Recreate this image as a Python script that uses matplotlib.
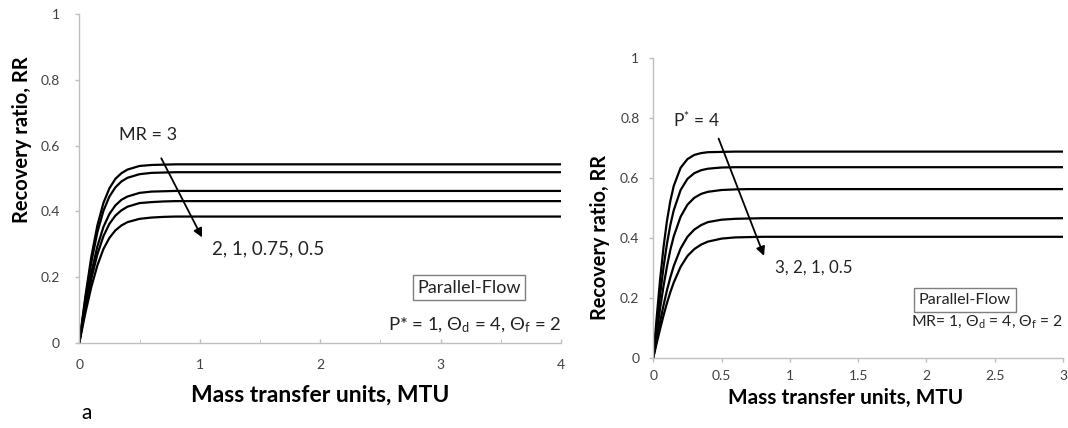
import numpy as np
import matplotlib
matplotlib.use('Agg')
import matplotlib.pyplot as plt

plt.rcParams['font.family'] = ['Lato', 'DejaVu Sans']
plt.rcParams['mathtext.default'] = 'regular'

# ---- panel (a): RR vs MTU for several MR values (P* = 1) ----
mtu_a = [0, 0.05, 0.1, 0.15, 0.2, 0.25, 0.3, 0.35, 0.4, 0.5, 0.6, 0.7, 0.8, 1.0, 4.0]
rr_mr3 = [0, 0.140, 0.262, 0.357, 0.425, 0.470, 0.499, 0.516, 0.527, 0.538, 0.541, 0.542, 0.543, 0.543, 0.543]
rr_mr2 = [0, 0.130, 0.245, 0.336, 0.401, 0.445, 0.473, 0.491, 0.502, 0.513, 0.517, 0.518, 0.519, 0.519, 0.519]
rr_mr1 = [0, 0.113, 0.213, 0.293, 0.352, 0.392, 0.418, 0.435, 0.445, 0.456, 0.460, 0.461, 0.462, 0.462, 0.462]
rr_mr075 = [0, 0.103, 0.195, 0.269, 0.324, 0.362, 0.387, 0.403, 0.414, 0.425, 0.428, 0.430, 0.431, 0.431, 0.431]
rr_mr05 = [0, 0.090, 0.170, 0.235, 0.285, 0.319, 0.342, 0.357, 0.367, 0.377, 0.381, 0.383, 0.384, 0.384, 0.384]
curves_a = [rr_mr3, rr_mr2, rr_mr1, rr_mr075, rr_mr05]

# ---- panel (b): RR vs MTU for several P* values (MR = 1) ----
mtu_b = [0, 0.025, 0.05, 0.075, 0.1, 0.125, 0.15, 0.2, 0.25, 0.3, 0.35, 0.4, 0.5, 0.6, 0.7, 0.8, 1.0, 3.0]
rr_p4 = [0, 0.135, 0.261, 0.369, 0.456, 0.523, 0.573, 0.633, 0.662, 0.676, 0.682, 0.685, 0.686, 0.687, 0.687, 0.687, 0.687, 0.687]
rr_p3 = [0, 0.108, 0.211, 0.302, 0.380, 0.443, 0.492, 0.559, 0.596, 0.615, 0.625, 0.630, 0.634, 0.635, 0.635, 0.635, 0.635, 0.635]
rr_p2 = [0, 0.085, 0.165, 0.239, 0.304, 0.360, 0.405, 0.470, 0.510, 0.533, 0.546, 0.553, 0.559, 0.561, 0.562, 0.562, 0.562, 0.562]
rr_p1 = [0, 0.061, 0.120, 0.175, 0.225, 0.268, 0.306, 0.364, 0.403, 0.427, 0.442, 0.452, 0.460, 0.463, 0.464, 0.465, 0.465, 0.465]
rr_p05 = [0, 0.049, 0.096, 0.141, 0.182, 0.219, 0.251, 0.303, 0.339, 0.362, 0.377, 0.387, 0.397, 0.401, 0.402, 0.403, 0.403, 0.403]
curves_b = [rr_p4, rr_p3, rr_p2, rr_p1, rr_p05]

y_ticks = [0, 0.2, 0.4, 0.6, 0.8, 1]
y_ticklabels = ['0', '0.2', '0.4', '0.6', '0.8', '1']
xa_ticks = [0, 1, 2, 3, 4]
xb_ticks = [0, 0.5, 1, 1.5, 2, 2.5, 3]
xb_ticklabels = ['0', '0.5', '1', '1.5', '2', '2.5', '3']

AX_GREY = '#bfbfbf'
TXT_GREY = '#404040'
INK = '#222222'

fig = plt.figure(figsize=(10.68, 4.28), dpi=100, facecolor='white')
ax1 = fig.add_axes([79.3 / 1068, 1 - 342.7 / 428, 481.7 / 1068, 328.5 / 428])
ax2 = fig.add_axes([653.3 / 1068, 1 - 357.7 / 428, 409.7 / 1068, 300 / 428])


def style_axes(ax):
    for s in ['top', 'right']:
        ax.spines[s].set_visible(False)
    for s in ['left', 'bottom']:
        ax.spines[s].set_color(AX_GREY)
        ax.spines[s].set_linewidth(1.0)
    ax.tick_params(colors=AX_GREY, labelcolor=TXT_GREY, labelsize=10, length=3, width=1.0)


# panel a
for rr in curves_a:
    ax1.plot(mtu_a, rr, color='black', lw=1.6, solid_capstyle='butt')
ax1.set_xlim(0, 4)
ax1.set_ylim(0, 1)
ax1.set_xticks(xa_ticks)
ax1.set_xticks(np.arange(0.5, 4, 1.0), minor=True)
ax1.set_yticks(y_ticks)
ax1.set_yticklabels(y_ticklabels)
style_axes(ax1)
ax1.tick_params(axis='x', which='both', direction='in', pad=12)
ax1.tick_params(axis='x', which='minor', length=3, color=AX_GREY)
ax1.tick_params(axis='y', direction='out', pad=11)

ax1.annotate('', xy=(1.03, 0.313), xytext=(0.67, 0.569),
             arrowprops=dict(arrowstyle='-|>', color='black', lw=1.3, mutation_scale=13))
ax1.text(0.571, 0.633, 'MR = 3', ha='center', va='center', fontsize=13, color=INK)
ax1.text(1.105, 0.287, '2, 1, 0.75, 0.5', ha='left', va='center', fontsize=13.5, color=INK)
ax1.text(3.237, 0.168, 'Parallel-Flow', ha='center', va='center', fontsize=13, color=INK,
         bbox=dict(boxstyle='square,pad=0.25', facecolor='white', edgecolor='#7f7f7f', lw=1.0))
ax1.text(4.0, 0.054, 'P* = 1, Θ$_{d}$ = 4, Θ$_{f}$ = 2', ha='right', va='center',
         fontsize=13.3, color=INK)

fig.text(22 / 1068, 1 - 140 / 428, 'Recovery ratio, RR', rotation=90, ha='center', va='center',
         fontsize=14.5, fontweight='bold', color='black')
fig.text(320 / 1068, 1 - 395 / 428, 'Mass transfer units, MTU', ha='center', va='center',
         fontsize=16.5, fontweight='bold', color='black')
fig.text(81 / 1068, 1 - 413 / 428, 'a', ha='left', va='center', fontsize=15, color='black')

# panel b
for rr in curves_b:
    ax2.plot(mtu_b, rr, color='black', lw=1.6, solid_capstyle='butt')
ax2.set_xlim(0, 3)
ax2.set_ylim(0, 1)
ax2.set_xticks(xb_ticks)
ax2.set_xticklabels(xb_ticklabels)
ax2.set_yticks(y_ticks)
ax2.set_yticklabels(y_ticklabels)
style_axes(ax2)
ax2.tick_params(axis='x', direction='out', pad=6)
ax2.tick_params(axis='y', direction='out', pad=7)

ax2.annotate('', xy=(0.818, 0.331), xytext=(0.471, 0.739),
             arrowprops=dict(arrowstyle='-|>', color='black', lw=1.3, mutation_scale=13))
ax2.text(0.144, 0.792, 'P$^{*}$ = 4', ha='left', va='center', fontsize=12.5, color=INK)
ax2.text(0.889, 0.299, '3, 2, 1, 0.5', ha='left', va='center', fontsize=12.2, color=INK)
ax2.text((965 - 653.3) / 136.6, (357.7 - 300) / 300, 'Parallel-Flow', ha='center', va='center',
         fontsize=11.6, color=INK,
         bbox=dict(boxstyle='square,pad=0.3', facecolor='white', edgecolor='#7f7f7f', lw=1.0))
ax2.text(3.0, (357.7 - 321.7) / 300, 'MR= 1, Θ$_{d}$ = 4, Θ$_{f}$ = 2', ha='right', va='center',
         fontsize=11.3, color=INK)

fig.text(600 / 1068, 1 - 237 / 428, 'Recovery ratio, RR', rotation=90, ha='center', va='center',
         fontsize=14.3, fontweight='bold', color='black')
fig.text(845.5 / 1068, 1 - 398.3 / 428, 'Mass transfer units, MTU', ha='center', va='center',
         fontsize=15, fontweight='bold', color='black')

fig.savefig('out.png', dpi=100, facecolor='white')
